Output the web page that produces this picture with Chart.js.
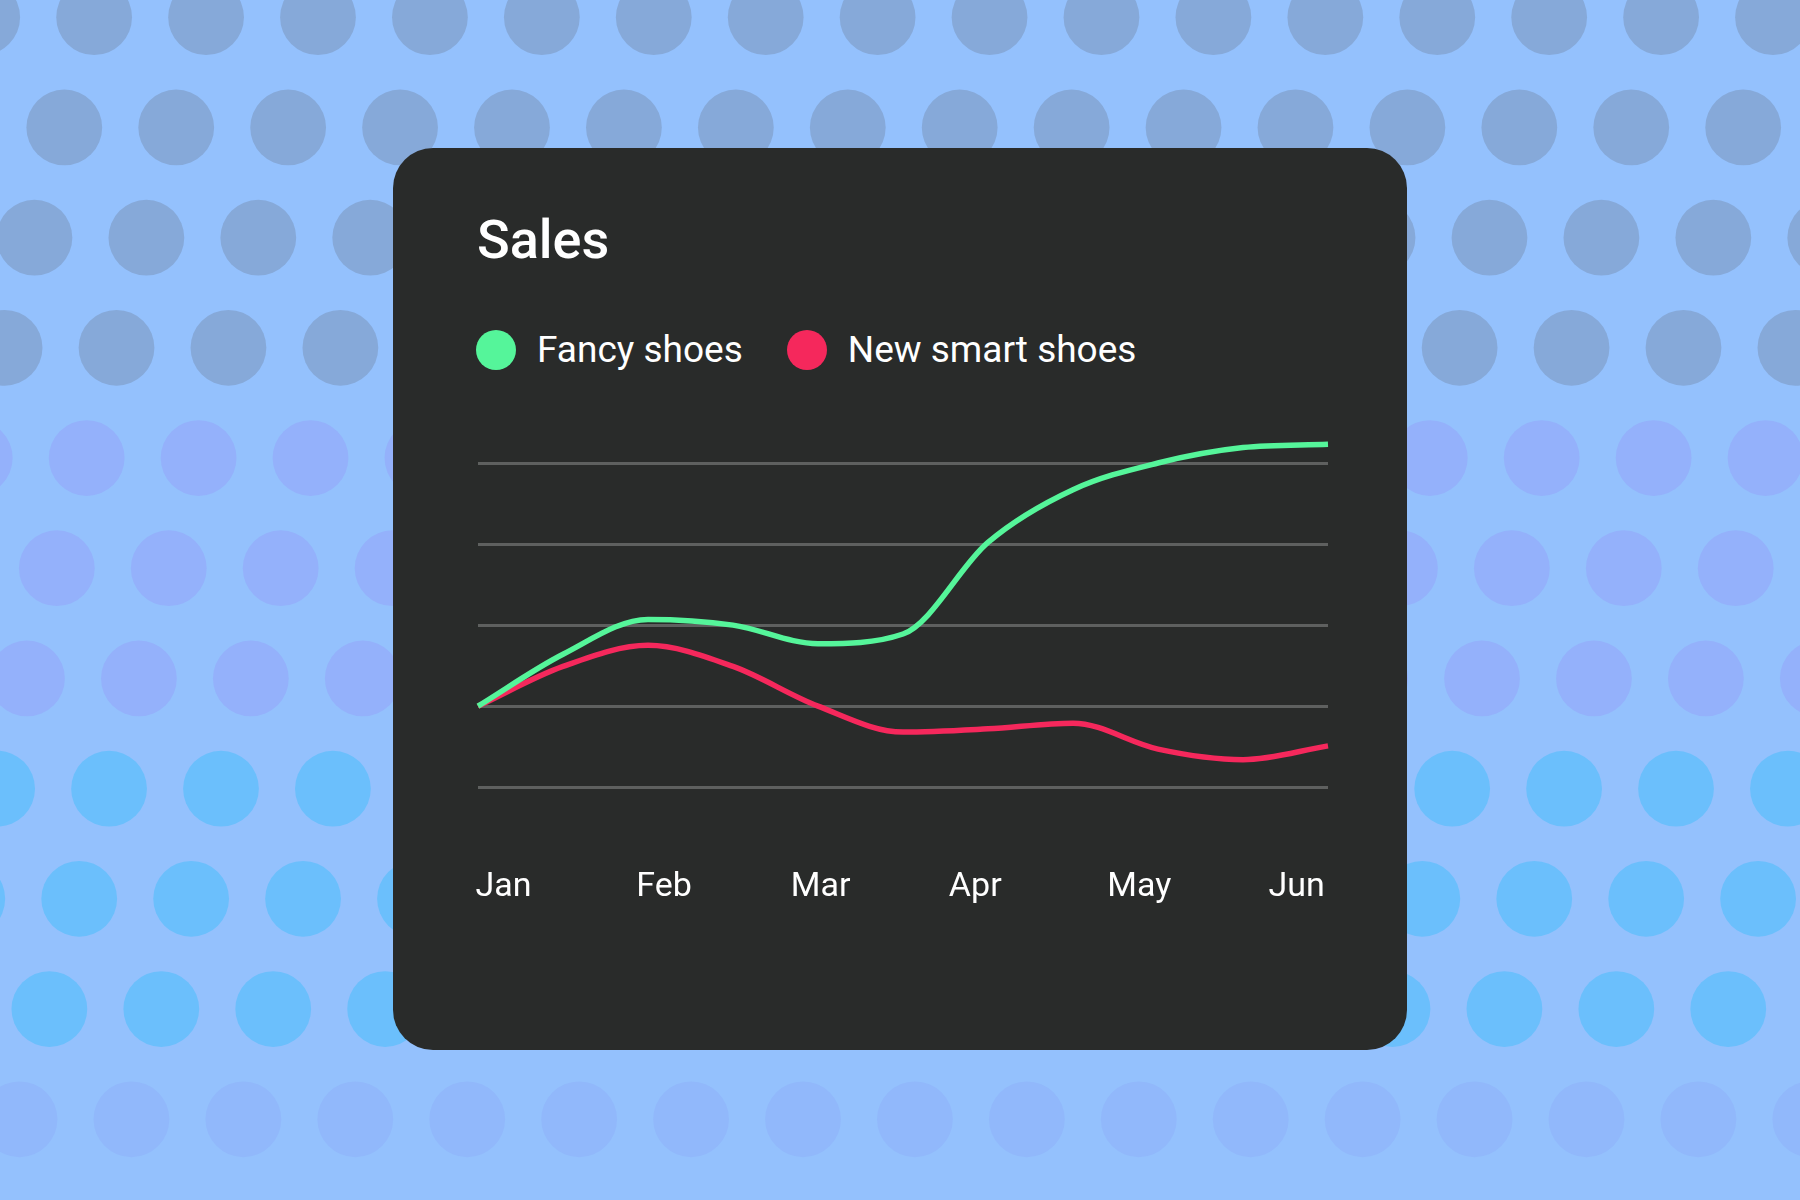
<!DOCTYPE html>
<html><head><meta charset="utf-8">
<script src="https://cdn.jsdelivr.net/npm/chart.js@4"></script>
<style>
html,body{margin:0;padding:0;width:1800px;height:1200px;overflow:hidden;background:#94c1fd;font-family:Roboto,sans-serif}
#bg{position:absolute;left:0;top:0}
#card{position:absolute;left:393px;top:148px;width:1014px;height:902px;background:#292b2a;border-radius:40px}
#title{position:absolute;left:84px;top:60px;color:#fff;font-size:54px;font-weight:500}
#legend{position:absolute;left:83px;top:180px;display:flex;align-items:center;color:#fff;font-size:37px}
.li{display:flex;align-items:center;margin-right:44px}
.dot{width:40px;height:40px;border-radius:50%;margin-right:21px}
#wrap{position:absolute;left:0;top:0;width:1014px;height:902px}
</style></head><body>
<canvas id="bg" width="1800" height="1200"></canvas>
<div id="card"><div id="title">Sales</div><div id="legend"></div><div id="wrap"><canvas id="c"></canvas></div></div>
<script>
const seriesNames = ["Fancy shoes", "New smart shoes"];
const seriesColors = ["#55f59a", "#f5285c"];
const monthLabels = ["Jan","Feb","Mar","Apr","May","Jun"];
const monthTickValues = [0.3, 2.19, 4.03, 5.85, 7.78, 9.63];
const fancyShoes = [1.0, 1.64, 2.07, 2.0, 1.77, 1.89, 3.02, 3.67, 4.0, 4.19, 4.23];
const smartShoes = [1.0, 1.49, 1.75, 1.49, 1.0, 0.68, 0.72, 0.79, 0.47, 0.34, 0.51];

// decorative background dots
(function(){
  const g=document.getElementById('bg').getContext('2d');
  const s=1800/1568;
  const cols=['#86a9d9','#86a9d9','#86a9d9','#86a9d9','#94b1fb','#94b1fb','#94b1fb','#6bbffc','#6bbffc','#6bbffc','#91b8fb'];
  for(let r=0;r<11;r++){
    const y=(15+96*r)*s; let x0=(82-26*r)%97.5; if(x0<0)x0+=97.5; x0-=97.5;
    g.fillStyle=cols[r];
    for(let x=x0;x<1700;x+=97.5){g.beginPath();g.arc(x*s,y,33*s,0,Math.PI*2);g.fill();}
  }
})();

const lg=document.getElementById('legend');
seriesNames.forEach((n,i)=>{lg.innerHTML+=`<div class="li"><div class="dot" style="background:${seriesColors[i]}"></div>${n}</div>`;});

const toPts=a=>a.map((v,i)=>({x:i,y:v}));
new Chart(document.getElementById('c'),{
  type:'line',
  data:{datasets:[fancyShoes,smartShoes].map((d,i)=>({label:seriesNames[i],data:toPts(d),borderColor:seriesColors[i],borderWidth:5.5,pointRadius:0,tension:0.4,cubicInterpolationMode:'monotone',clip:false,fill:false}))},
  options:{responsive:true,maintainAspectRatio:false,animation:false,
    layout:{padding:{left:85,right:79,top:315,bottom:70}},
    plugins:{legend:{display:false},tooltip:{enabled:false}},
    scales:{
      x:{type:'linear',min:0,max:10,grid:{display:false},border:{display:false},
        afterBuildTicks:a=>{a.ticks=monthTickValues.map(v=>({value:v}));},
        ticks:{padding:72,color:'#fff',font:{family:'Roboto',size:34},callback:(v,i)=>monthLabels[i]}},
      y:{min:0,max:4,border:{display:false},grid:{color:'#5e605f',lineWidth:3,drawTicks:false},
        ticks:{display:false,stepSize:1},afterFit:a=>{a.width=0;}}
    }}
});
</script></body></html>
